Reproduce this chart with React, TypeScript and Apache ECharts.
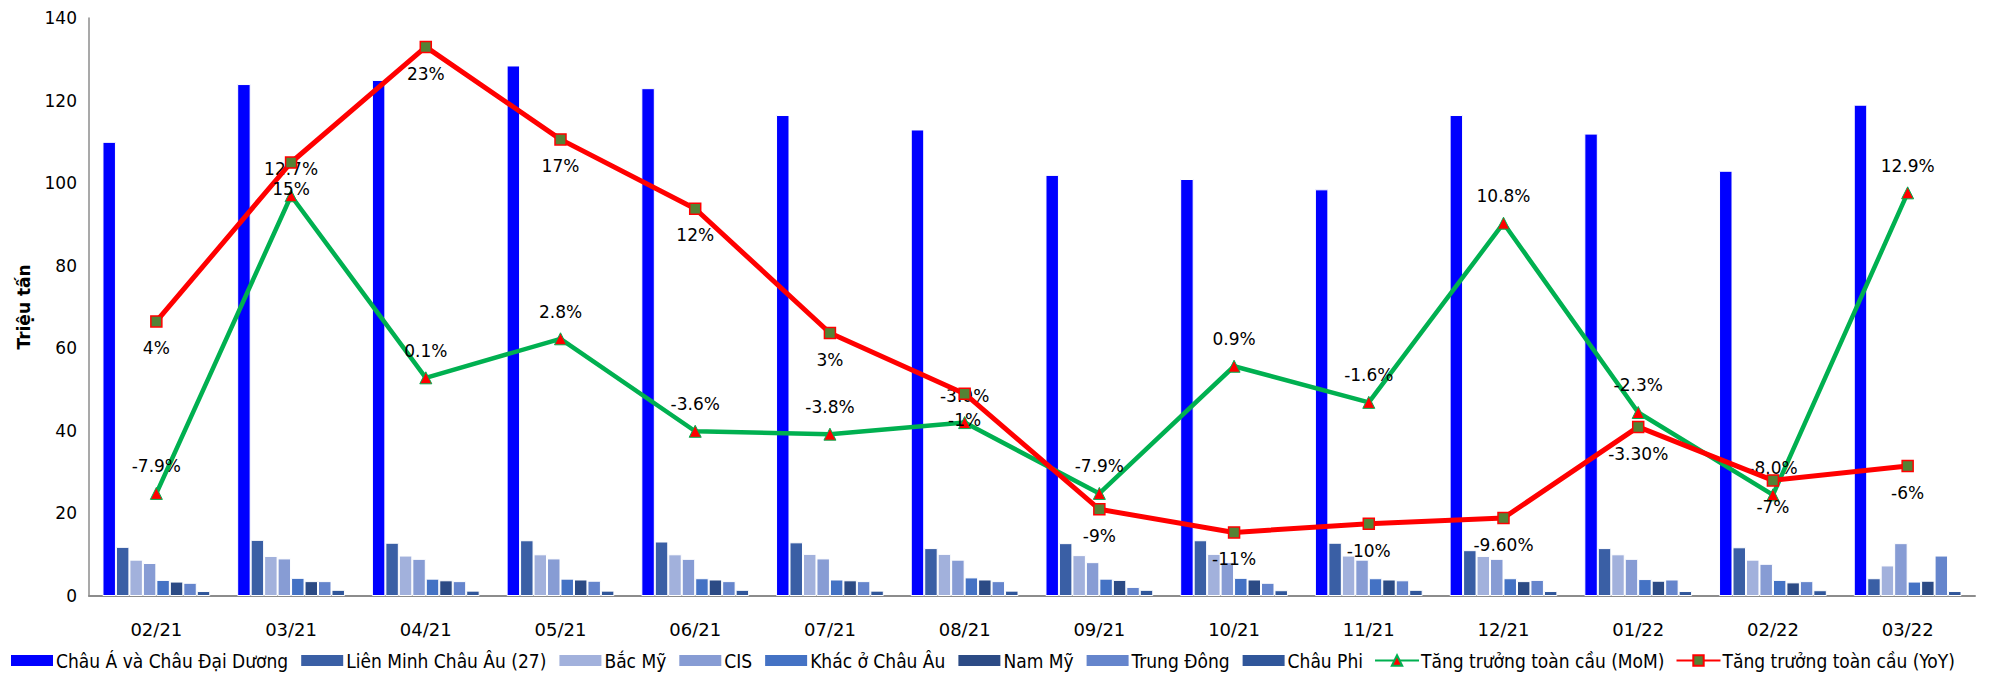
import React, { useEffect, useRef } from "react";
import * as echarts from "echarts";

const categories = ["02/21", "03/21", "04/21", "05/21", "06/21", "07/21", "08/21", "09/21", "10/21", "11/21", "12/21", "01/22", "02/22", "03/22"];

const asiaOceania = [110, 124, 125, 128.5, 123, 116.5, 113, 102, 101, 98.5, 116.5, 112, 103, 119];
const eu27 = [11.9, 13.6, 12.9, 13.5, 13.2, 13.0, 11.6, 12.8, 13.5, 12.9, 11.1, 11.6, 11.8, 4.3];
const northAmerica = [8.8, 9.7, 9.8, 10.1, 10.1, 10.2, 10.2, 9.9, 10.2, 9.8, 9.7, 10.1, 8.8, 7.4];
const cis = [8.0, 9.1, 9.0, 9.1, 9.0, 9.1, 8.8, 8.2, 8.2, 8.8, 9.0, 9.0, 7.8, 12.8];
const otherEurope = [3.9, 4.4, 4.2, 4.2, 4.3, 4.0, 4.5, 4.2, 4.4, 4.3, 4.3, 4.1, 3.9, 3.5];
const southAmerica = [3.5, 3.6, 3.8, 4.0, 4.0, 3.8, 4.0, 3.9, 4.0, 4.0, 3.6, 3.7, 3.3, 3.7];
const middleEast = [3.2, 3.6, 3.6, 3.7, 3.6, 3.6, 3.6, 2.2, 3.2, 3.8, 3.9, 4.0, 3.6, 9.8];
const africa = [1.2, 1.5, 1.3, 1.3, 1.5, 1.3, 1.3, 1.5, 1.4, 1.5, 1.2, 1.2, 1.4, 1.2];

const momGrowth = [-7.9, 12.7, 0.1, 2.8, -3.6, -3.8, -3.0, -7.9, 0.9, -1.6, 10.8, -2.3, -8.0, 12.9];
const momLabels = ["-7.9%", "12.7%", "0.1%", "2.8%", "-3.6%", "-3.8%", "-3.0%", "-7.9%", "0.9%", "-1.6%", "10.8%", "-2.3%", "-8.0%", "12.9%"];
const yoyGrowth = [4, 15, 23, 16.6, 11.8, 3.2, -1, -9, -10.6, -10, -9.6, -3.3, -7, -6];
const yoyLabels = ["4%", "15%", "23%", "17%", "12%", "3%", "-1%", "-9%", "-11%", "-10%", "-9.60%", "-3.30%", "-7%", "-6%"];

const yTicks = { min: 0, max: 140, interval: 20 };

const barSeriesDefs = [
  { name: "Châu Á và Châu Đại Dương", data: asiaOceania, color: "#0000FF" },
  { name: "Liên Minh Châu Âu (27)", data: eu27, color: "#3A5FA5" },
  { name: "Bắc Mỹ", data: northAmerica, color: "#A2B1DC" },
  { name: "CIS", data: cis, color: "#879CD4" },
  { name: "Khác ở Châu Âu", data: otherEurope, color: "#4472C4" },
  { name: "Nam Mỹ", data: southAmerica, color: "#2C4B85" },
  { name: "Trung Đông", data: middleEast, color: "#6585CC" },
  { name: "Châu Phi", data: africa, color: "#30569A" },
];

const FONT = "DejaVu Sans";

export default function App() {
  const ref = useRef<HTMLDivElement>(null);

  useEffect(() => {
    document.body.style.margin = "0";
    document.body.style.overflow = "hidden";
    if (!ref.current) return;
    const chart = echarts.init(ref.current, undefined, { renderer: "svg" });

    const bars = barSeriesDefs.map((d) => ({
      name: d.name,
      type: "bar",
      yAxisIndex: 0,
      data: d.data,
      barGap: "0%",
      barCategoryGap: "20%",
      itemStyle: { color: d.color, borderColor: "#ffffff", borderWidth: 1 },
    }));

    chart.setOption({
      animation: false,
      backgroundColor: "#ffffff",
      textStyle: { fontFamily: FONT },
      grid: { left: 89, right: 26, top: 18, bottom: 85 },
      legend: {
        left: 4,
        bottom: 6,
        itemWidth: 44,
        itemHeight: 13,
        itemGap: 11,
        textStyle: { fontFamily: "DejaVu Sans Condensed", fontSize: 19, color: "#000", padding: [0, 0, 0, -3] },
        data: [
          ...barSeriesDefs.map((d) => ({ name: d.name, icon: "rect" })),
          { name: "Tăng trưởng toàn cầu (MoM)" },
          { name: "Tăng trưởng toàn cầu (YoY)" },
        ],
      },
      xAxis: {
        type: "category",
        data: categories,
        axisLine: { lineStyle: { color: "#8c8c8c", width: 2 } },
        axisTick: { show: false },
        axisLabel: { fontFamily: FONT, fontSize: 18, color: "#000", margin: 24 },
      },
      yAxis: [
        {
          type: "value",
          min: yTicks.min,
          max: yTicks.max,
          interval: yTicks.interval,
          name: "Triệu tấn",
          nameLocation: "middle",
          nameGap: 57,
          nameRotate: 90,
          nameTextStyle: { fontFamily: FONT, fontWeight: "bold", fontSize: 17, color: "#000" },
          axisLine: { show: true, lineStyle: { color: "#8c8c8c", width: 1.5 } },
          axisTick: { show: false },
          splitLine: { show: false },
          axisLabel: { fontFamily: FONT, fontSize: 17, color: "#000", margin: 12 },
        },
        {
          type: "value",
          min: -15,
          max: 25,
          show: false,
          splitLine: { show: false },
        },
      ],
      series: [
        ...bars,
        {
          name: "Tăng trưởng toàn cầu (MoM)",
          type: "line",
          yAxisIndex: 1,
          data: momGrowth,
          symbol: "triangle",
          symbolSize: 12,
          z: 5,
          lineStyle: { color: "#00B050", width: 4.5 },
          itemStyle: { color: "#FF0000", borderColor: "#00B050", borderWidth: 1 },
          label: {
            show: true,
            position: "top",
            distance: 12,
            fontFamily: FONT,
            fontSize: 17,
            color: "#000",
            formatter: (p: any) => momLabels[p.dataIndex],
          },
        },
        {
          name: "Tăng trưởng toàn cầu (YoY)",
          type: "line",
          yAxisIndex: 1,
          data: yoyGrowth,
          symbol: "rect",
          symbolSize: 11,
          z: 6,
          lineStyle: { color: "#FF0000", width: 5 },
          itemStyle: { color: "#548235", borderColor: "#FF0000", borderWidth: 1.5 },
          label: {
            show: true,
            position: "bottom",
            distance: 12,
            fontFamily: FONT,
            fontSize: 17,
            color: "#000",
            formatter: (p: any) => yoyLabels[p.dataIndex],
          },
        },
      ],
    });

    return () => chart.dispose();
  }, []);

  return <div ref={ref} style={{ position: "absolute", left: 0, top: 0, width: 2001, height: 681 }} />;
}
